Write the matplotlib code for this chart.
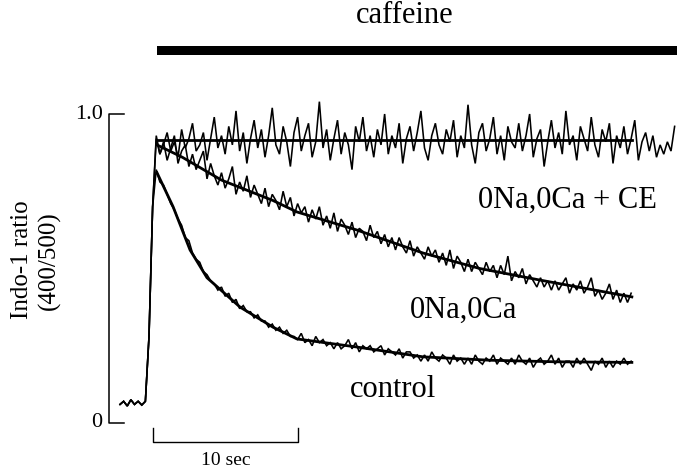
import numpy as np
import matplotlib
matplotlib.use("Agg")
from matplotlib import pyplot as plt


# sampling of the raw traces (s)
STEP = 0.25
BASE_START = 0.0
TRACE_START = 2.5

# resting level and upstroke, shared by all three records
baseline = [0.06, 0.07, 0.055, 0.075, 0.06, 0.07, 0.058, 0.07, 0.28, 0.70]

# raw Indo-1 ratio, 0Na,0Ca + CE (2.5 s .. 38.25 s)
ce_raw = [
    0.93, 0.87, 0.90, 0.94, 0.88, 0.91, 0.86, 0.95, 0.89, 0.92, 0.97, 0.88, 0.90, 0.94, 0.85, 0.92, 0.99, 0.89, 0.93, 0.87,
    0.96, 0.90, 1.01, 0.88, 0.94, 0.84, 0.92, 0.98, 0.89, 0.95, 0.86, 0.93, 1.02, 0.90, 0.87, 0.96, 0.91, 0.83, 0.94, 0.99,
    0.88, 0.93, 0.97, 0.86, 0.91, 1.04, 0.89, 0.95, 0.85, 0.92, 0.98, 0.87, 0.94, 0.90, 0.82, 0.96, 0.91, 0.99, 0.88, 0.93,
    0.86, 0.95, 0.90, 1.00, 0.87, 0.93, 0.89, 0.97, 0.84, 0.92, 0.96, 0.88, 0.94, 1.01, 0.89, 0.85, 0.93, 0.97, 0.90, 0.87,
    0.95, 0.91, 0.98, 0.86, 0.93, 0.89, 1.03, 0.90, 0.84, 0.94, 0.97, 0.88, 0.92, 0.99, 0.87, 0.93, 0.85, 0.96, 0.91, 0.89,
    0.97, 0.88, 0.93, 1.00, 0.86, 0.92, 0.95, 0.83, 0.91, 0.98, 0.89, 0.94, 0.87, 1.01, 0.90, 0.93, 0.85, 0.96, 0.92, 0.88,
    0.99, 0.90, 0.86, 0.95, 0.91, 0.97, 0.84, 0.93, 0.89, 0.96, 0.87, 0.92, 0.98, 0.85, 0.91, 0.94, 0.88, 0.93, 0.86, 0.90,
    0.87, 0.91, 0.88, 0.96,
]

# raw 0Na,0Ca (2.5 s .. 35.25 s)
na_raw = [
    0.92, 0.87,
    0.91, 0.85, 0.89, 0.93, 0.84, 0.88, 0.90, 0.83, 0.87, 0.82, 0.85, 0.88, 0.79, 0.84, 0.80, 0.77,
    0.81, 0.76, 0.79, 0.83, 0.74, 0.78, 0.75, 0.80, 0.73, 0.77, 0.74, 0.71, 0.76, 0.70, 0.74, 0.72,
    0.69, 0.75, 0.70, 0.73, 0.67, 0.71, 0.68, 0.70, 0.65, 0.69, 0.66, 0.70, 0.64, 0.67, 0.63, 0.68,
    0.62, 0.66, 0.64, 0.61, 0.65, 0.60, 0.63, 0.62, 0.59, 0.64, 0.60, 0.62, 0.58, 0.61, 0.57, 0.60,
    0.56, 0.60, 0.57, 0.55, 0.59, 0.54, 0.57, 0.55, 0.53, 0.57, 0.54, 0.56, 0.52, 0.55, 0.51, 0.56,
    0.50, 0.54, 0.52, 0.49, 0.53, 0.49, 0.52, 0.50, 0.48, 0.52, 0.49, 0.51, 0.47, 0.51, 0.48, 0.54,
    0.46, 0.49, 0.47, 0.50, 0.45, 0.48, 0.46, 0.44, 0.47, 0.44, 0.46, 0.43, 0.46, 0.43, 0.45, 0.47,
    0.42, 0.45, 0.43, 0.46, 0.42, 0.44, 0.47, 0.41, 0.43, 0.40, 0.42, 0.45, 0.40, 0.43, 0.39, 0.42,
    0.39, 0.42,
]

# raw control (2.5 s .. 35.25 s)
ctl_raw = [
    0.82, 0.78,
    0.77, 0.74, 0.71, 0.69, 0.66, 0.64, 0.60, 0.59, 0.55, 0.53, 0.52, 0.49, 0.48, 0.46, 0.45, 0.43,
    0.44, 0.41, 0.42, 0.39, 0.40, 0.37, 0.38, 0.36, 0.36, 0.34, 0.35, 0.33, 0.33, 0.31, 0.32, 0.30,
    0.31, 0.29, 0.30, 0.28, 0.28, 0.27, 0.29, 0.26, 0.27, 0.25, 0.28, 0.26, 0.27, 0.25, 0.26, 0.24,
    0.26, 0.24, 0.25, 0.27, 0.24, 0.26, 0.23, 0.25, 0.24, 0.25, 0.23, 0.24, 0.25, 0.22, 0.24, 0.23,
    0.22, 0.24, 0.21, 0.23, 0.23, 0.21, 0.22, 0.20, 0.22, 0.20, 0.23, 0.21, 0.20, 0.22, 0.21, 0.19,
    0.22, 0.20, 0.21, 0.19, 0.21, 0.19, 0.22, 0.20, 0.19, 0.21, 0.20, 0.22, 0.19, 0.21, 0.20, 0.19,
    0.21, 0.19, 0.22, 0.20, 0.19, 0.21, 0.18, 0.20, 0.21, 0.19, 0.20, 0.22, 0.19, 0.21, 0.18, 0.20,
    0.20, 0.18, 0.21, 0.19, 0.21, 0.19, 0.17, 0.20, 0.19, 0.21, 0.18, 0.20, 0.18, 0.20, 0.19, 0.21,
    0.19, 0.20,
]

# fitted curves (time s, ratio)
ce_fit_t = [2.55, 35.3]
ce_fit_y = [0.915, 0.915]
na_fit_t = [2.55, 4.3, 7.0, 10.55, 12.2, 16.3, 20.9, 24.8, 28.9, 35.3]
na_fit_y = [0.90, 0.86, 0.786, 0.72, 0.683, 0.625, 0.55, 0.50, 0.463, 0.408]
ctl_fit_t = [2.55, 3.66, 4.83, 6.0, 8.28, 10.55, 12.2, 16.3, 20.9, 25.5, 30.0, 35.3]
ctl_fit_y = [0.81, 0.70, 0.56, 0.47, 0.375, 0.31, 0.272, 0.246, 0.214, 0.203, 0.198, 0.196]

CAFFEINE_ON = (2.55, 38.4)
SCALE_BAR = (2.3, 12.3)
Y_TICKS = [0, 1.0]
Y_TICK_LABELS = ["0", "1.0"]

plt.rcParams["font.family"] = ["Liberation Serif", "DejaVu Serif"]


def trace_time(n, start):
    return start + STEP * np.arange(n)


fig = plt.figure(figsize=(6.86, 4.73), dpi=100)
ax = fig.add_axes([0, 0, 1, 1])
ax.set_xlim(-8.276, 39.034)
ax.set_ylim(-0.162, 1.369)
ax.axis("off")

t_base = trace_time(len(baseline), BASE_START)
for raw in (ce_raw, na_raw, ctl_raw):
    t = np.concatenate([t_base, trace_time(len(raw), TRACE_START)])
    y = np.concatenate([baseline, raw])
    ax.plot(t, y, color="black", lw=1.15, solid_joinstyle="miter")

for ft, fy in [(ce_fit_t, ce_fit_y), (na_fit_t, na_fit_y), (ctl_fit_t, ctl_fit_y)]:
    ax.plot(ft, fy, color="black", lw=2.0)

# y calibration bracket
ax.plot([0.28, -0.76, -0.76, 0.28], [Y_TICKS[1], Y_TICKS[1], Y_TICKS[0], Y_TICKS[0]],
        color="black", lw=1.1)
for v, lab in zip(Y_TICKS, Y_TICK_LABELS):
    ax.text(-1.2, v, lab, ha="right", va="center", fontsize=16)
ax.text(-5.8, 0.527, "Indo-1 ratio\n(400/500)", rotation=90, ha="center", va="center",
        fontsize=18, linespacing=1.25)

# time scale bar
x0, x1 = SCALE_BAR
ax.plot([x0, x0, x1, x1], [-0.016, -0.0615, -0.0615, -0.016], color="black", lw=1.0)
ax.text((x0 + x1) / 2, -0.12, "10 sec", ha="center", va="center", fontsize=14)

# caffeine application bar
ax.fill_between(CAFFEINE_ON, 1.191, 1.220, color="black", lw=0)
ax.text(19.6, 1.32, "caffeine", ha="center", va="center", fontsize=22)

ax.text(24.7, 0.72, "0Na,0Ca + CE", ha="left", va="center", fontsize=22)
ax.text(23.7, 0.366, "0Na,0Ca", ha="center", va="center", fontsize=22)
ax.text(18.8, 0.107, "control", ha="center", va="center", fontsize=22)

fig.savefig("out.png", dpi=100, facecolor="white")
